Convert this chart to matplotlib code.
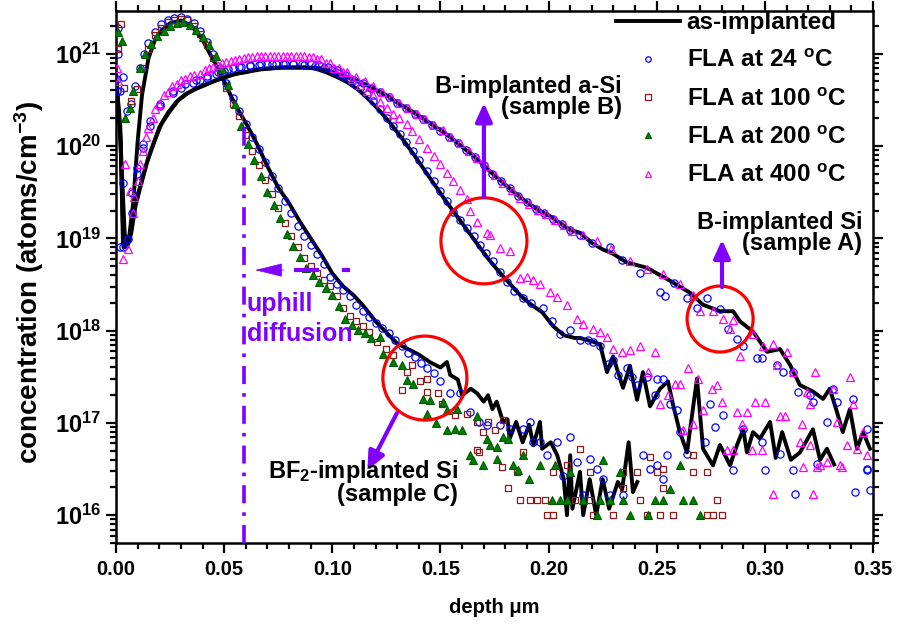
import numpy as np
import matplotlib
matplotlib.use('Agg')
import matplotlib.pyplot as plt
from matplotlib.patches import Ellipse

plt.rcParams['font.family'] = ['Liberation Sans', 'DejaVu Sans']
plt.rcParams['font.weight'] = 'bold'
plt.rcParams['mathtext.fontset'] = 'custom'
plt.rcParams['mathtext.rm'] = 'Liberation Sans:bold'
plt.rcParams['mathtext.it'] = 'Liberation Sans:bold:italic'
plt.rcParams['mathtext.bf'] = 'Liberation Sans:bold'
plt.rcParams['mathtext.default'] = 'rm'

# columns: depth (um), log10 concentration (atoms/cm^3)
# sample C : BF2-implanted Si
asimp_c = np.array([
    (0.000, 20.76), (0.002, 20.10), (0.004, 19.05), (0.005, 18.95), (0.006, 19.00),
    (0.008, 19.40), (0.010, 20.05), (0.012, 20.55), (0.015, 20.95), (0.018, 21.15),
    (0.021, 21.25), (0.025, 21.33), (0.030, 21.36), (0.035, 21.30), (0.040, 21.15),
    (0.045, 20.93), (0.050, 20.70), (0.055, 20.45), (0.060, 20.25), (0.065, 20.03),
    (0.070, 19.78), (0.075, 19.55), (0.080, 19.38), (0.085, 19.18), (0.090, 19.00),
    (0.095, 18.82), (0.100, 18.62), (0.105, 18.48), (0.110, 18.38), (0.115, 18.25),
    (0.120, 18.10), (0.125, 17.98), (0.130, 17.86), (0.135, 17.80), (0.140, 17.74),
    (0.145, 17.66), (0.150, 17.60), (0.153, 17.66), (0.1545, 17.52), (0.158, 17.47),
    (0.160, 17.30), (0.164, 17.37), (0.167, 17.32), (0.170, 17.23), (0.172, 17.30),
    (0.174, 17.15), (0.176, 17.23), (0.179, 17.01), (0.181, 17.04), (0.182, 16.83),
    (0.185, 17.01), (0.188, 16.79), (0.191, 16.98), (0.193, 16.76), (0.196, 17.01),
    (0.197, 16.72), (0.201, 16.79), (0.204, 16.65), (0.207, 16.39), (0.2085, 16.00),
    (0.210, 16.65), (0.211, 16.07), (0.2145, 16.47), (0.216, 16.00), (0.219, 16.39),
    (0.222, 16.00), (0.225, 16.39), (0.228, 16.07), (0.232, 16.36), (0.234, 16.28),
    (0.237, 16.79), (0.239, 16.25), (0.241, 16.36)])

fla24_c = np.array([
    (0.001, 21.28), (0.003, 20.75), (0.005, 20.38), (0.007, 20.45), (0.009, 20.65),
    (0.011, 20.85), (0.013, 21.00), (0.015, 21.12), (0.018, 21.24), (0.021, 21.32),
    (0.024, 21.37), (0.027, 21.39), (0.030, 21.40), (0.033, 21.38), (0.036, 21.33),
    (0.039, 21.25), (0.042, 21.13), (0.045, 21.00), (0.048, 20.85), (0.051, 20.68),
    (0.054, 20.52), (0.057, 20.38), (0.060, 20.24), (0.063, 20.10), (0.066, 19.97),
    (0.069, 19.83), (0.072, 19.68), (0.075, 19.55), (0.078, 19.40), (0.081, 19.27),
    (0.084, 19.13), (0.087, 19.03), (0.090, 18.93), (0.093, 18.83), (0.096, 18.72),
    (0.099, 18.58), (0.102, 18.50), (0.105, 18.44), (0.108, 18.37), (0.111, 18.28),
    (0.114, 18.21), (0.117, 18.15), (0.120, 18.08), (0.123, 18.03), (0.126, 17.97),
    (0.129, 17.90), (0.132, 17.83), (0.135, 17.76), (0.138, 17.71), (0.141, 17.65),
    (0.144, 17.60), (0.147, 17.54), (0.150, 17.45), (0.1544, 17.32), (0.159, 17.32),
    (0.1637, 17.12), (0.168, 17.01), (0.1715, 16.98), (0.1775, 16.98), (0.182, 16.93),
    (0.188, 16.93), (0.1914, 17.01), (0.1928, 16.79), (0.196, 16.79), (0.1993, 16.65),
    (0.2039, 16.79), (0.2067, 16.43), (0.210, 16.85), (0.2131, 16.58), (0.2159, 16.22),
    (0.2191, 16.61), (0.2224, 16.50), (0.2252, 16.39), (0.2284, 16.22), (0.2344, 16.22),
    (0.2436, 16.65), (0.2469, 16.50), (0.2501, 16.54), (0.2529, 16.39), (0.2547, 16.65)])

fla100_c = np.array([
    (0.0010, 21.05), (0.0023, 21.32), (0.0037, 20.63), (0.0070, 20.49), (0.0095, 20.62),
    (0.012, 20.85), (0.015, 21.05), (0.018, 21.20), (0.021, 21.28), (0.024, 21.34),
    (0.027, 21.37), (0.030, 21.38), (0.033, 21.36), (0.036, 21.30), (0.039, 21.21),
    (0.042, 21.09), (0.045, 20.95), (0.048, 20.80), (0.051, 20.63), (0.054, 20.46),
    (0.057, 20.32), (0.060, 20.12), (0.063, 19.95), (0.066, 19.79), (0.069, 19.63),
    (0.072, 19.48), (0.075, 19.33), (0.078, 19.17), (0.081, 19.03), (0.084, 18.91),
    (0.087, 18.79), (0.090, 18.70), (0.093, 18.62), (0.096, 18.55), (0.099, 18.48),
    (0.102, 18.38), (0.105, 18.25), (0.108, 18.16), (0.111, 18.10), (0.114, 18.05),
    (0.117, 17.98), (0.1207, 17.88), (0.125, 17.80), (0.128, 17.74), (0.132, 17.36),
    (0.1345, 17.55), (0.137, 17.63), (0.1405, 17.45), (0.144, 17.48), (0.1438, 17.34),
    (0.149, 17.32), (0.1507, 17.21), (0.1567, 17.09), (0.1623, 17.10), (0.167, 17.01),
    (0.1697, 16.90), (0.172, 17.01), (0.175, 16.92), (0.179, 17.03), (0.167, 16.71),
    (0.168, 16.68), (0.1785, 16.52), (0.181, 16.30), (0.1854, 16.47), (0.1882, 16.68),
    (0.1868, 16.17), (0.1914, 16.17), (0.1946, 16.17), (0.1983, 16.17), (0.202, 16.47),
    (0.2085, 16.54), (0.2145, 16.72), (0.1993, 16.00), (0.202, 16.00), (0.2122, 16.17),
    (0.219, 16.17), (0.219, 16.47), (0.2205, 16.00), (0.2298, 16.00), (0.2344, 16.47),
    (0.2344, 16.30), (0.241, 16.47), (0.2423, 16.17), (0.2455, 16.00), (0.2501, 16.47),
    (0.2469, 16.63), (0.2515, 16.00), (0.2529, 16.30), (0.2529, 16.50), (0.2575, 16.00),
    (0.2668, 16.47), (0.2732, 16.47), (0.2779, 16.17), (0.2732, 16.00), (0.276, 16.00),
    (0.2802, 16.00), (0.2668, 16.65)])

fla200_c = np.array([
    (0.001, 21.23), (0.0028, 21.14), (0.004, 20.30), (0.0065, 20.41), (0.008, 20.60),
    (0.011, 20.85), (0.0135, 21.00), (0.016, 21.11), (0.019, 21.19), (0.022, 21.25),
    (0.025, 21.30), (0.028, 21.33), (0.031, 21.34), (0.034, 21.31), (0.037, 21.26),
    (0.040, 21.18), (0.043, 21.09), (0.046, 20.98), (0.049, 20.83), (0.052, 20.66),
    (0.055, 20.45), (0.058, 20.22), (0.061, 20.02), (0.064, 19.85), (0.067, 19.68),
    (0.070, 19.50), (0.073, 19.36), (0.076, 19.22), (0.079, 19.05), (0.082, 18.92),
    (0.085, 18.80), (0.088, 18.68), (0.091, 18.60), (0.094, 18.53), (0.097, 18.46),
    (0.100, 18.39), (0.103, 18.27), (0.106, 18.13), (0.109, 18.06), (0.112, 18.01),
    (0.115, 17.97), (0.118, 17.92), (0.1221, 17.93), (0.1235, 17.75), (0.128, 17.66),
    (0.132, 17.63), (0.1345, 17.47), (0.1373, 17.42), (0.142, 17.26), (0.145, 17.25),
    (0.151, 17.23), (0.153, 17.14), (0.1577, 17.15), (0.144, 17.10), (0.148, 17.00),
    (0.153, 16.92), (0.1567, 16.93), (0.160, 16.92), (0.167, 17.07), (0.1715, 16.83),
    (0.173, 16.76), (0.176, 16.74), (0.179, 16.85), (0.181, 16.83), (0.1637, 16.65),
    (0.165, 16.60), (0.1697, 16.54), (0.176, 16.61), (0.1835, 16.54), (0.188, 16.65),
    (0.186, 16.49), (0.191, 16.39), (0.196, 16.54), (0.203, 16.54), (0.210, 16.47),
    (0.2016, 16.17), (0.2053, 16.17), (0.2085, 16.17), (0.216, 16.17), (0.2252, 16.60),
    (0.2238, 16.17), (0.2284, 16.17), (0.233, 16.47), (0.2344, 16.17), (0.2376, 16.00),
    (0.246, 16.00), (0.2492, 16.17), (0.2529, 16.17), (0.2224, 16.00), (0.2607, 16.54),
    (0.2561, 16.28), (0.270, 16.00), (0.262, 16.17), (0.2668, 16.17)])

# sample A : B-implanted Si
asimp_a = np.array([
    (0.000, 20.76), (0.002, 20.20), (0.0032, 18.95), (0.005, 18.90), (0.0065, 19.00),
    (0.008, 19.30), (0.011, 19.55), (0.014, 19.80), (0.017, 20.00), (0.020, 20.20),
    (0.024, 20.36), (0.028, 20.48), (0.032, 20.56), (0.036, 20.61), (0.040, 20.65),
    (0.045, 20.70), (0.050, 20.74), (0.055, 20.78), (0.060, 20.80), (0.065, 20.83),
    (0.070, 20.84), (0.075, 20.85), (0.080, 20.85), (0.085, 20.85), (0.090, 20.85),
    (0.095, 20.84), (0.100, 20.80), (0.105, 20.76), (0.110, 20.72), (0.115, 20.67),
    (0.120, 20.61), (0.125, 20.55), (0.130, 20.47), (0.135, 20.40), (0.140, 20.33),
    (0.145, 20.25), (0.150, 20.17), (0.155, 20.09), (0.160, 19.99), (0.165, 19.90),
    (0.170, 19.79), (0.175, 19.68), (0.180, 19.58), (0.185, 19.48), (0.190, 19.39),
    (0.195, 19.31), (0.200, 19.25), (0.205, 19.17), (0.210, 19.09), (0.2145, 19.06),
    (0.220, 18.95), (0.225, 18.88), (0.230, 18.83), (0.236, 18.74), (0.2455, 18.68),
    (0.2547, 18.56), (0.2654, 18.41), (0.2714, 18.28), (0.2792, 18.21), (0.2853, 18.21),
    (0.2885, 18.10), (0.2945, 17.99), (0.301, 17.77), (0.307, 17.80), (0.3116, 17.63),
    (0.3162, 17.41), (0.3222, 17.34), (0.3269, 17.26), (0.330, 17.37), (0.3333, 17.12),
    (0.336, 16.90), (0.3393, 17.15), (0.3426, 16.72), (0.3454, 16.90), (0.3486, 16.72)])

fla24_a = np.array([
    (0.0005, 20.73), (0.001, 21.00), (0.0018, 20.60), (0.0032, 19.60), (0.0055, 18.99),
    (0.0074, 19.27), (0.0097, 19.70), (0.0125, 19.98), (0.0157, 20.22), (0.0203, 20.43),
    (0.0264, 20.57), (0.030, 20.63), (0.0356, 20.68), (0.0388, 20.71), (0.042, 20.74),
    (0.046, 20.78), (0.050, 20.81), (0.054, 20.84), (0.058, 20.86), (0.062, 20.87),
    (0.066, 20.88), (0.070, 20.89), (0.074, 20.89), (0.078, 20.89), (0.082, 20.89),
    (0.086, 20.89), (0.090, 20.89), (0.094, 20.88), (0.098, 20.86), (0.102, 20.82),
    (0.106, 20.77), (0.110, 20.72), (0.114, 20.68), (0.118, 20.63), (0.122, 20.58),
    (0.126, 20.53), (0.130, 20.47), (0.134, 20.41), (0.138, 20.35), (0.142, 20.29),
    (0.146, 20.23), (0.150, 20.16), (0.154, 20.10), (0.158, 20.03), (0.162, 19.96),
    (0.166, 19.88), (0.170, 19.79), (0.174, 19.70), (0.178, 19.62), (0.182, 19.54),
    (0.186, 19.46), (0.190, 19.39), (0.194, 19.32), (0.198, 19.27), (0.202, 19.21),
    (0.206, 19.15), (0.210, 19.09), (0.2145, 19.04), (0.220, 18.95), (0.2284, 18.91),
    (0.234, 18.76), (0.2423, 18.62), (0.2515, 18.42), (0.2538, 18.37), (0.258, 18.52),
    (0.264, 18.35), (0.2686, 18.24), (0.2732, 18.35), (0.2792, 18.23), (0.283, 18.02),
    (0.2871, 17.91), (0.290, 17.83), (0.2963, 17.70), (0.2987, 17.70), (0.3056, 17.63),
    (0.3084, 17.55), (0.313, 17.55), (0.3153, 17.34), (0.3209, 17.30), (0.3222, 17.23),
    (0.3287, 17.01), (0.3315, 17.37), (0.3333, 17.23), (0.3407, 17.26), (0.3472, 16.93),
    (0.3472, 16.50)])

fla400_a = np.array([
    (0.0005, 20.84), (0.0032, 18.78), (0.0055, 18.88), (0.0079, 19.27), (0.0102, 19.62),
    (0.0125, 19.95), (0.015, 20.20), (0.018, 20.40), (0.022, 20.55), (0.026, 20.65),
    (0.030, 20.72), (0.034, 20.76), (0.0388, 20.78), (0.043, 20.84), (0.047, 20.88),
    (0.051, 20.91), (0.055, 20.93), (0.059, 20.95), (0.063, 20.96), (0.067, 20.97),
    (0.071, 20.98), (0.075, 20.98), (0.079, 20.98), (0.083, 20.98), (0.087, 20.97),
    (0.091, 20.96), (0.095, 20.94), (0.099, 20.90), (0.103, 20.85), (0.107, 20.80),
    (0.111, 20.75), (0.115, 20.70), (0.119, 20.65), (0.123, 20.59), (0.127, 20.53),
    (0.131, 20.47), (0.135, 20.41), (0.139, 20.35), (0.143, 20.29), (0.147, 20.23),
    (0.151, 20.17), (0.155, 20.10), (0.159, 20.03), (0.163, 19.95), (0.167, 19.87),
    (0.171, 19.78), (0.175, 19.69), (0.179, 19.60), (0.183, 19.52), (0.187, 19.44),
    (0.191, 19.37), (0.195, 19.31), (0.199, 19.26), (0.203, 19.20), (0.207, 19.14),
    (0.211, 19.08), (0.216, 19.04), (0.2224, 18.97), (0.229, 18.88), (0.2376, 18.75),
    (0.2455, 18.67), (0.2529, 18.61), (0.2607, 18.50), (0.2668, 18.39), (0.270, 18.21),
    (0.276, 18.21), (0.2806, 18.13), (0.2853, 18.12), (0.2838, 18.02), (0.2885, 17.72),
    (0.2945, 17.96), (0.2991, 17.83), (0.3037, 17.85), (0.3102, 17.77), (0.3056, 17.63),
    (0.313, 17.55), (0.3232, 17.55), (0.3195, 17.34), (0.3209, 17.20), (0.3315, 17.37),
    (0.3393, 17.50), (0.3333, 17.01), (0.338, 16.76), (0.3426, 16.72), (0.3454, 16.90),
    (0.3407, 17.20), (0.3347, 16.54), (0.3472, 16.65)])

# sample B : B-implanted a-Si
asimp_b = np.array([
    (0.000, 20.70), (0.002, 20.10), (0.0035, 18.90), (0.005, 18.95), (0.007, 19.05),
    (0.009, 19.35), (0.012, 19.62), (0.015, 19.88), (0.018, 20.07), (0.021, 20.24),
    (0.025, 20.38), (0.029, 20.50), (0.033, 20.57), (0.037, 20.62), (0.042, 20.67),
    (0.047, 20.72), (0.052, 20.76), (0.057, 20.79), (0.062, 20.81), (0.067, 20.83),
    (0.072, 20.84), (0.077, 20.85), (0.082, 20.85), (0.087, 20.85), (0.092, 20.84),
    (0.097, 20.80), (0.102, 20.75), (0.107, 20.69), (0.112, 20.61), (0.117, 20.50),
    (0.122, 20.38), (0.127, 20.24), (0.132, 20.09), (0.137, 19.93), (0.142, 19.76),
    (0.147, 19.59), (0.152, 19.42), (0.157, 19.26), (0.162, 19.10), (0.167, 18.94),
    (0.172, 18.78), (0.177, 18.64), (0.182, 18.51), (0.187, 18.38), (0.192, 18.28),
    (0.197, 18.20), (0.202, 18.05), (0.207, 17.95), (0.212, 17.92), (0.2145, 17.92),
    (0.2205, 17.88), (0.2238, 17.85), (0.227, 17.55), (0.2298, 17.72), (0.2344, 17.38),
    (0.2376, 17.62), (0.2409, 17.25), (0.2436, 17.55), (0.2469, 17.18), (0.2515, 17.37),
    (0.2552, 17.45), (0.2575, 17.20), (0.2607, 16.90), (0.264, 16.68), (0.2686, 17.48),
    (0.2714, 16.72), (0.276, 16.54), (0.2792, 16.76), (0.2839, 16.54), (0.2871, 16.76),
    (0.290, 16.93), (0.2917, 16.68), (0.2945, 16.90), (0.2977, 16.83), (0.3024, 17.01),
    (0.305, 16.62), (0.308, 16.90), (0.312, 16.60), (0.3162, 16.68), (0.3222, 16.93),
    (0.3255, 16.60), (0.3287, 16.72), (0.332, 16.55)])

fla24_b = np.array([
    (0.0005, 20.60), (0.0018, 18.91), (0.0032, 18.91), (0.005, 18.99), (0.0074, 19.49),
    (0.0097, 19.76), (0.0125, 20.02), (0.0157, 20.27), (0.0203, 20.46), (0.0264, 20.60),
    (0.032, 20.67), (0.037, 20.72), (0.042, 20.76), (0.047, 20.80), (0.052, 20.83),
    (0.057, 20.86), (0.062, 20.88), (0.067, 20.89), (0.072, 20.89), (0.077, 20.89),
    (0.082, 20.89), (0.087, 20.88), (0.092, 20.87), (0.096, 20.85), (0.100, 20.82),
    (0.1025, 20.79), (0.105, 20.76), (0.108, 20.71), (0.1105, 20.67), (0.1128, 20.63),
    (0.116, 20.56), (0.1188, 20.49), (0.122, 20.40), (0.1253, 20.30), (0.128, 20.22),
    (0.1313, 20.13), (0.134, 20.04), (0.1373, 19.95), (0.140, 19.85), (0.1438, 19.73),
    (0.147, 19.62), (0.150, 19.51), (0.153, 19.40), (0.1558, 19.29), (0.159, 19.20),
    (0.1623, 19.11), (0.1655, 19.02), (0.1683, 18.93), (0.171, 18.84), (0.1743, 18.75),
    (0.1775, 18.64), (0.1808, 18.53), (0.184, 18.43), (0.1882, 18.35), (0.192, 18.30),
    (0.1974, 18.24), (0.2015, 18.10), (0.2053, 17.96), (0.210, 18.01), (0.2145, 17.90),
    (0.2182, 17.90), (0.2205, 17.88), (0.2238, 17.83), (0.2275, 17.64), (0.2298, 17.68),
    (0.2321, 17.52), (0.2362, 17.59), (0.2386, 17.50), (0.2409, 17.41), (0.2455, 17.50),
    (0.2492, 17.30), (0.2501, 17.48), (0.2529, 17.48), (0.2561, 17.21), (0.2594, 17.14),
    (0.2607, 16.90), (0.264, 16.66), (0.2723, 16.79), (0.2769, 16.96), (0.2746, 17.20),
    (0.2806, 17.09), (0.2853, 16.49), (0.290, 16.93), (0.2987, 16.79), (0.300, 16.49),
    (0.307, 16.66), (0.313, 16.49), (0.314, 16.23), (0.3241, 16.55), (0.3417, 16.25),
    (0.3472, 16.49), (0.3486, 16.27)])

fla400_b = np.array([
    (0.001, 20.70), (0.0042, 19.80), (0.0065, 19.51), (0.0085, 19.45), (0.011, 19.80),
    (0.014, 20.10), (0.017, 20.30), (0.020, 20.46), (0.024, 20.58), (0.028, 20.67),
    (0.032, 20.73), (0.036, 20.77), (0.041, 20.82), (0.045, 20.86), (0.049, 20.90),
    (0.053, 20.92), (0.057, 20.94), (0.061, 20.96), (0.065, 20.97), (0.069, 20.98),
    (0.073, 20.98), (0.077, 20.98), (0.081, 20.98), (0.085, 20.97), (0.089, 20.96),
    (0.093, 20.94), (0.097, 20.90), (0.101, 20.85), (0.105, 20.80), (0.109, 20.73),
    (0.113, 20.66), (0.116, 20.60), (0.119, 20.55), (0.122, 20.48), (0.1253, 20.41),
    (0.128, 20.35), (0.131, 20.30), (0.1345, 20.24), (0.137, 20.16), (0.140, 20.08),
    (0.1438, 19.98), (0.147, 19.89), (0.150, 19.80), (0.153, 19.71), (0.1558, 19.62),
    (0.159, 19.52), (0.1623, 19.43), (0.1637, 19.30), (0.167, 19.18), (0.1715, 19.06),
    (0.1729, 19.04), (0.1775, 18.89), (0.1822, 18.86), (0.1868, 18.57), (0.190, 18.58),
    (0.193, 18.55), (0.196, 18.51), (0.2006, 18.42), (0.204, 18.36), (0.2085, 18.28),
    (0.2131, 18.13), (0.216, 18.07), (0.2205, 18.02), (0.2238, 17.99), (0.227, 17.93),
    (0.2298, 17.80), (0.234, 17.77), (0.2376, 17.79), (0.2423, 17.83), (0.2492, 17.77),
    (0.246, 17.55), (0.2515, 17.20), (0.2552, 17.30), (0.2584, 17.42), (0.2607, 17.42),
    (0.2645, 17.59), (0.2691, 17.48), (0.2755, 17.37), (0.2779, 17.41), (0.2714, 17.14),
    (0.2668, 16.99), (0.2621, 16.92), (0.2802, 17.23), (0.2871, 17.12), (0.2917, 17.12),
    (0.2954, 17.23), (0.300, 17.23), (0.307, 17.07), (0.3093, 17.07), (0.3172, 16.99),
    (0.2894, 16.99), (0.2825, 16.71), (0.2853, 16.71), (0.294, 16.71), (0.2987, 16.71),
    (0.3162, 16.79), (0.3209, 16.76), (0.3287, 16.58), (0.3356, 16.52), (0.3241, 16.52),
    (0.3037, 16.23), (0.3222, 16.23), (0.3176, 16.52), (0.3255, 16.54)])

uphill_depth = 0.059
uphill_top = 1.7e20

purple = '#7F00FF'

fig = plt.figure(figsize=(8.98, 6.26), dpi=100)
ax = fig.add_axes([0.1292, 0.1326, 0.843, 0.8498])

def conc(a):
    return 10 ** a[:, 1]

# as-implanted lines
for i, prof in enumerate([asimp_c, asimp_a, asimp_b]):
    ax.plot(prof[:, 0], conc(prof), color='k', lw=2.8, zorder=2,
            label='as-implanted' if i == 0 else None)

mk = dict(linestyle='none', zorder=3)
for i, prof in enumerate([fla24_c, fla24_a, fla24_b]):
    ax.plot(prof[:, 0], conc(prof), marker='o', ms=5.2, mfc='none', mec='#0000FF',
            mew=0.9, label='FLA at 24 $^{o}$C' if i == 0 else None, **mk)
ax.plot(fla100_c[:, 0], conc(fla100_c), marker='s', ms=5.0, mfc='none', mec='#8B1A1A',
        mew=0.9, label='FLA at 100 $^{o}$C', **mk)
ax.plot(fla200_c[:, 0], conc(fla200_c), marker='^', ms=6.0, mfc='#008000', mec='#005a00',
        mew=0.8, label='FLA at 200 $^{o}$C', **mk)
for i, prof in enumerate([fla400_a, fla400_b]):
    ax.plot(prof[:, 0], conc(prof), marker='^', ms=6.2, mfc='none', mec='#FF00FF',
            mew=0.9, label='FLA at 400 $^{o}$C' if i == 0 else None, **mk)

ax.set_yscale('log')
ax.set_xlim(0, 0.35)
ax.set_ylim(5e15, 2.9e21)
ax.set_xticks(np.arange(0, 0.351, 0.05))
ax.set_xticks(np.arange(0, 0.351, 0.01), minor=True)
ax.set_xticklabels(['%.2f' % v for v in np.arange(0, 0.351, 0.05)])

ax.tick_params(which='both', direction='out', top=True, right=True, width=1.6)
ax.tick_params(which='major', length=7.5)
ax.tick_params(which='minor', length=4)
ax.tick_params(axis='x', labelsize=14.5, pad=5)
ax.tick_params(axis='y', labelsize=17, pad=3)
for s in ax.spines.values():
    s.set_linewidth(1.8)

ax.set_xlabel('depth μm', fontsize=14.5, fontweight='bold')
ax.set_ylabel('concentration (atoms/cm$^{-3}$)', fontsize=20, fontweight='bold')
ax.xaxis.set_label_coords(0.5, -0.103)
ax.yaxis.set_label_coords(-0.092, 0.49)

# uphill marker
ax.plot([uphill_depth, uphill_depth], [5e15, uphill_top], color=purple, lw=2.6,
        linestyle=(0, (5, 2.5, 1, 2.5)), zorder=4)

T = ax.transAxes
# red circles
for cx, cy, r in [(0.486, 0.568, 43), (0.798, 0.421, 33), (0.408, 0.310, 42)]:
    ax.add_patch(Ellipse((cx, cy), 2 * r / 757, 2 * r / 532, transform=T,
                         fill=False, ec='#FF0000', lw=2.3, zorder=5))

arw = dict(arrowstyle='-|>,head_length=0.55,head_width=0.25', color=purple, lw=3,
           mutation_scale=20, shrinkA=0, shrinkB=0)
ax.annotate('', xy=(0.486, 0.827), xytext=(0.486, 0.650), xycoords=T, arrowprops=arw, zorder=6)
ax.annotate('', xy=(0.8005, 0.570), xytext=(0.8005, 0.481), xycoords=T, arrowprops=arw, zorder=6)
ax.annotate('', xy=(0.332, 0.137), xytext=(0.371, 0.244), xycoords=T, arrowprops=arw, zorder=6)
# uphill diffusion arrow (dashed shaft)
ax.plot([0.235, 0.309], [0.513, 0.513], transform=T, color=purple, lw=3,
        linestyle=(0, (6, 5.5)), zorder=6)
ax.annotate('', xy=(0.1836, 0.513), xytext=(0.222, 0.513), xycoords=T, zorder=6,
            arrowprops=dict(arrowstyle='-|>,head_length=0.9,head_width=0.22', color=purple,
                            lw=0.5, mutation_scale=20, shrinkA=0, shrinkB=0))

txt = dict(fontsize=17, fontweight='bold', transform=T, zorder=7, linespacing=0.9)
ax.text(0.668, 0.838, 'B-implanted a-Si\n(sample B)', ha='right', va='center',
        multialignment='right', **txt)
ax.text(0.9855, 0.583, 'B-implanted Si\n(sample A)', ha='right', va='center',
        multialignment='right', **txt)
ax.text(0.452, 0.115, 'BF$_2$-implanted Si\n(sample C)', ha='right', va='center',
        multialignment='right', **txt)
ax.text(0.173, 0.421, 'uphill\ndiffusion', ha='left', va='center', color=purple,
        fontsize=18, fontweight='bold', transform=T, linespacing=1.3)

leg = ax.legend(loc='upper left', bbox_to_anchor=(0.6605, 1.0), frameon=False,
                fontsize=17.5, handlelength=2.65, handletextpad=0.25, labelspacing=0.63,
                borderpad=0, borderaxespad=0, markerscale=0.75)

fig.savefig('out.png', dpi=100)
